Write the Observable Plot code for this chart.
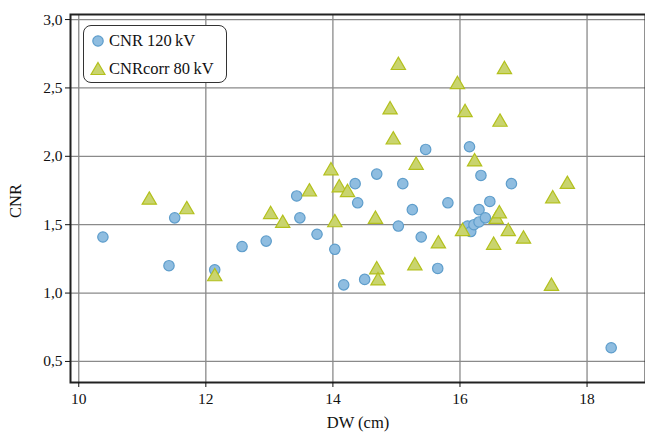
<!DOCTYPE html>
<html>
<head>
<meta charset="utf-8">
<script src="https://cdn.jsdelivr.net/npm/d3@7"></script>
<script src="https://cdn.jsdelivr.net/npm/@observablehq/plot@0.6"></script>
<style>
  html, body { margin: 0; padding: 0; background: #fff; overflow: hidden; }
  #wrap { position: relative; width: 645px; height: 435px; overflow: hidden; font-family: "Liberation Serif", "DejaVu Serif", serif; }
  #wrap svg text { font-family: "Liberation Serif", "DejaVu Serif", serif !important; }
  #legend { position: absolute; left: 83px; top: 25px; width: 144px; height: 58px; border: 1px solid #333; border-radius: 8px; background: #fff; box-sizing: border-box; }
  .row { position: absolute; left: 0; display: flex; align-items: center; font-size: 16.5px; color: #111; white-space: nowrap; }
  .row svg { margin-left: 6px; margin-right: 3px; }
  .lab { position: absolute; font-size: 16.5px; color: #111; white-space: nowrap; }
</style>
</head>
<body>
<div id="wrap"></div>
<script>
// DW (cm) and CNR values for CNR at 120 kV (circles)
const dw120 = [10.38, 11.42, 11.51, 12.14, 12.57, 12.95, 13.43, 13.48, 13.75, 14.03, 14.17, 14.35, 14.39, 14.50, 14.69, 15.03, 15.10, 15.25, 15.39, 15.46, 15.65, 15.81, 16.12, 16.15, 16.17, 16.22, 16.30, 16.30, 16.33, 16.40, 16.47, 16.81, 18.38];
const cnr120 = [1.41, 1.20, 1.55, 1.17, 1.34, 1.38, 1.71, 1.55, 1.43, 1.32, 1.06, 1.80, 1.66, 1.10, 1.87, 1.49, 1.80, 1.61, 1.41, 2.05, 1.18, 1.66, 1.49, 2.07, 1.45, 1.50, 1.52, 1.61, 1.86, 1.55, 1.67, 1.80, 0.60];
// DW (cm) and corrected CNR at 80 kV (triangles)
const dw80 = [11.11, 11.70, 12.14, 13.02, 13.21, 13.63, 13.97, 14.03, 14.10, 14.23, 14.67, 14.69, 14.71, 14.90, 14.95, 15.03, 15.29, 15.31, 15.66, 15.96, 16.04, 16.08, 16.23, 16.53, 16.57, 16.62, 16.63, 16.70, 16.76, 17.00, 17.44, 17.46, 17.69];
const cnr80 = [1.68, 1.61, 1.12, 1.575, 1.51, 1.74, 1.895, 1.515, 1.77, 1.735, 1.54, 1.17, 1.09, 2.34, 2.12, 2.665, 1.20, 1.935, 1.36, 2.525, 1.45, 2.32, 1.96, 1.35, 1.54, 1.58, 2.25, 2.635, 1.45, 1.395, 1.05, 1.69, 1.795];
const xTicks = [10, 12, 14, 16, 18];
const yTicks = [0.5, 1.0, 1.5, 2.0, 2.5, 3.0];
const seriesNames = ["CNR 120\u2009kV", "CNRcorr 80\u2009kV"];
const xLabel = "DW (cm)";
const yLabel = "CNR";

const s120 = dw120.map((d, i) => ({dw: d, cnr: cnr120[i]}));
const s80 = dw80.map((d, i) => ({dw: d, cnr: cnr80[i]}));

const blueFill = "#8fbde0", blueStroke = "#5e9dcb";
const greenFill = "#c9d46e", greenStroke = "#b3c01c";
const fmt = d => d.toFixed(1).replace(".", ",");
const serif = "'Liberation Serif', 'DejaVu Serif', serif";

const chart = Plot.plot({
  width: 648,
  height: 435,
  marginLeft: 70,
  marginRight: 3,
  marginTop: 14,
  marginBottom: 53,
  style: {fontFamily: serif, fontSize: "15px", color: "#111", background: "#fff", maxWidth: "none", overflow: "visible"},
  x: {domain: [9.87, 18.92]},
  y: {domain: [0.346, 3.037]},
  marks: [
    Plot.gridX(xTicks, {stroke: "#8a8a8a", strokeOpacity: 1, strokeWidth: 1.3}),
    Plot.gridY(yTicks, {stroke: "#8a8a8a", strokeOpacity: 1, strokeWidth: 1.3}),
    Plot.frame({stroke: "#222", strokeWidth: 2}),
    Plot.axisX(xTicks, {tickSize: 5, tickPadding: 5, label: null, fontSize: 15.5, fontFamily: serif}),
    Plot.axisY(yTicks, {tickSize: 5, tickPadding: 3, tickFormat: fmt, label: null, fontSize: 15.5, fontFamily: serif}),
    Plot.dot(s120, {x: "dw", y: "cnr", r: 5.2, fill: blueFill, stroke: blueStroke, strokeWidth: 1.2, symbol: "circle"}),
    Plot.dot(s80, {x: "dw", y: "cnr", r: 5.3, fill: greenFill, stroke: greenStroke, strokeWidth: 1.2, symbol: "triangle"})
  ]
});

const wrap = document.getElementById("wrap");
wrap.appendChild(chart);

const xl = document.createElement("div");
xl.className = "lab";
xl.textContent = xLabel;
xl.style.left = "358px"; xl.style.top = "413px"; xl.style.transform = "translateX(-50%)";
wrap.appendChild(xl);

const yl = document.createElement("div");
yl.className = "lab";
yl.textContent = yLabel;
yl.style.left = "16px"; yl.style.top = "201px"; yl.style.transform = "translate(-50%,-50%) rotate(-90deg)";
wrap.appendChild(yl);

const legend = document.createElement("div");
legend.id = "legend";
legend.innerHTML = `
  <div class="row" style="top:5px"><svg width="16" height="16"><circle cx="8" cy="8" r="5.2" fill="${blueFill}" stroke="${blueStroke}" stroke-width="1.2"/></svg><span>${seriesNames[0]}</span></div>
  <div class="row" style="top:33px"><svg width="16" height="16"><path d="M8,1.5 L15,13.5 L1,13.5 Z" fill="${greenFill}" stroke="${greenStroke}" stroke-width="1.2"/></svg><span>${seriesNames[1]}</span></div>`;
wrap.appendChild(legend);
</script>
</body>
</html>
